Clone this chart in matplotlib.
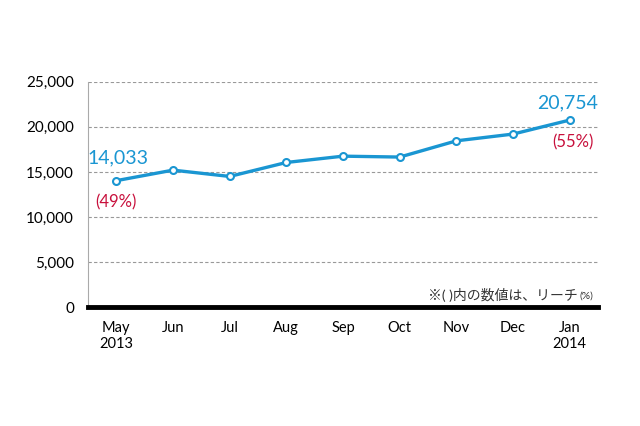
import matplotlib.pyplot as plt

plt.rcParams['font.family'] = ['Lato', 'Noto Sans CJK JP', 'DejaVu Sans']

months = ['May\n2013', 'Jun', 'Jul', 'Aug', 'Sep', 'Oct', 'Nov', 'Dec', 'Jan\n2014']
users = [14033, 15200, 14500, 16050, 16750, 16650, 18450, 19200, 20754]
yticks = [0, 5000, 10000, 15000, 20000, 25000]

blue = '#1a96d2'
red = '#c8103c'

fig = plt.figure(figsize=(6.4, 4.26), dpi=100)
ax = fig.add_axes([0.1375, 0.279, 0.797, 0.529])

x = range(len(months))
ax.plot(x, users, color=blue, lw=2.4, marker='o', ms=5,
        mfc='white', mec=blue, mew=1.5, zorder=3)

ax.set_xlim(-0.5, len(months) - 0.5)
ax.set_ylim(0, 25000)
ax.set_yticks(yticks)
ax.set_yticklabels(['{:,}'.format(v) for v in yticks], fontsize=11)
ax.set_xticks(list(x))
ax.set_xticklabels(months, fontsize=10.5)
ax.tick_params(length=0, pad=10)
ax.tick_params(axis='y', pad=10)

ax.yaxis.grid(True, ls=(0, (3, 2)), color='#999999', lw=0.8)
ax.set_axisbelow(True)
for s in ['top', 'right']:
    ax.spines[s].set_visible(False)
ax.spines['left'].set_color('#aaaaaa')
ax.spines['bottom'].set_color('black')
ax.spines['bottom'].set_linewidth(3.5)

# first / last labels
ax.annotate('{:,}'.format(users[0]), (0, users[0]), xytext=(-21, 10),
            textcoords='offset points', color=blue, fontsize=14, ha='left', va='bottom')
ax.annotate('(49%)', (0, users[0]), xytext=(-15, -10),
            textcoords='offset points', color=red, fontsize=12, ha='left', va='top')
ax.annotate('{:,}'.format(users[-1]), (8, users[-1]), xytext=(20, 6),
            textcoords='offset points', color=blue, fontsize=14, ha='right', va='bottom')
ax.annotate('(55%)', (8, users[-1]), xytext=(17, -10),
            textcoords='offset points', color=red, fontsize=12, ha='right', va='top')

ax.text(8.15, 1350, '※( )内の数値は、リーチ', fontsize=10, color='#333333', ha='right', va='center')
ax.text(8.17, 1250, '(%)', fontsize=7.5, color='#333333', ha='left', va='center')

fig.savefig('out.png', dpi=100)
